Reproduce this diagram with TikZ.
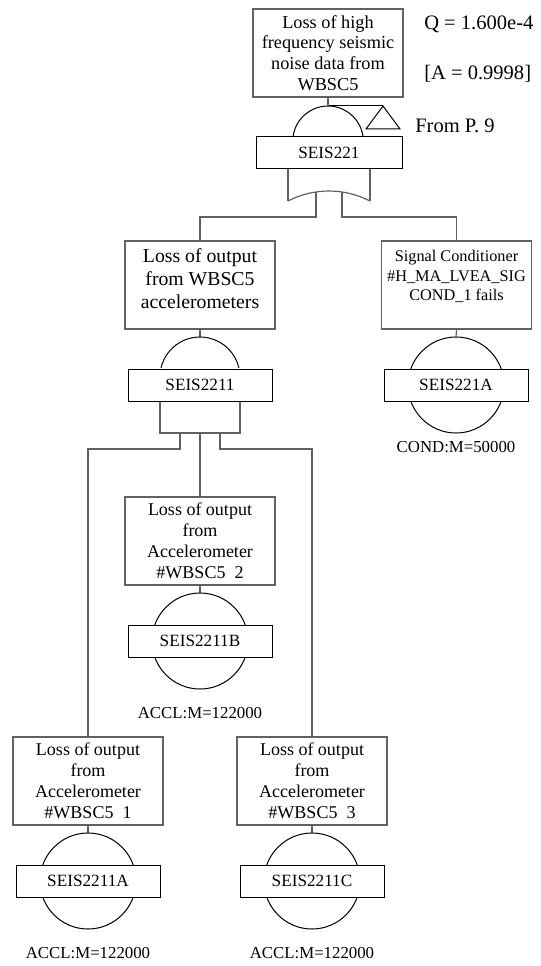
\documentclass[tikz,border=0pt]{standalone}
\usepackage{fontspec}
\setmainfont{Liberation Serif}
\usetikzlibrary{calc}
\definecolor{linegray}{gray}{0.38}
\newlength\px
\setlength\px{0.75pt}
\begin{document}
\begin{tikzpicture}[x=0.75pt,y=-0.75pt,
  conn/.style={draw=linegray,line width=1.2\px},
  gate/.style={draw=black,line width=1\px},
  evbox/.style={draw=linegray,line width=1.2\px,fill=white,inner sep=0pt,align=center,
    minimum width=150\px,minimum height=88\px},
  lbl/.style={draw=black,line width=1\px,fill=white,inner sep=0pt,
    minimum width=144\px,minimum height=32\px,font=\fontsize{12.9}{14}\selectfont},
  note/.style={inner sep=0pt,font=\fontsize{15.4}{17}\selectfont},
  code/.style={inner sep=0pt,font=\fontsize{12.6}{14}\selectfont}]
\useasboundingbox (0,0) rectangle (541,966);

% ---- top event and its OR gate ----
\node[evbox,font=\fontsize{13.7}{15.5}\selectfont] (top) at (328,53)
  {Loss of high\\frequency seismic\\noise data from\\WBSC5};
\node[note,anchor=west] (q) at (424,24) {Q = 1.600e-4};
\node[note,anchor=west] (avail) at (424,74) {[A = 0.9998]};

\coordinate (g1top) at (328,106);
\coordinate (xfer) at (383,106);
\draw[gate] (293,137) arc[start angle=187,end angle=353,radius=35.3];
\draw[gate] (g1top) -- (xfer);
\draw[gate] (xfer) -- ++(17,23) -- ++(-34,0) -- cycle;
\node[note,anchor=west] (xfertxt) at (415,126) {From P. 9};

\draw[conn] (top.south) -- (g1top);
\draw[conn] (288,168) -- (288,201);
\draw[conn] (370,168) -- (370,201);
\draw[conn] (288,201) arc[start angle=242.6,end angle=297.4,radius=89];
\node[lbl,minimum width=146\px] (g1) at (329,152.5) {SEIS221};

% ---- intermediate event and its AND gate ----
\node[evbox,font=\fontsize{14.8}{17.2}\selectfont] (acc) at (200,285)
  {Loss of output\\from WBSC5\\accelerometers\\[-8pt]\mbox{}};
\node[evbox,font=\fontsize{12.2}{14.4}\selectfont] (sig) at (456.5,285)
  {Signal Conditioner\\\#H\_MA\_LVEA\_SIG\\COND\_1 fails\\\mbox{}};

\draw[conn] (316,192) -- (316,217) -| (acc.north);
\draw[conn] (342,192) -- (342,217) -| (sig.north);

\coordinate (g2top) at (200,337);
\draw[conn] (acc.south) -- (g2top);
\draw[gate] (161,368) arc[start angle=193,end angle=347,radius=40];
\draw[conn] (160,402) -- (160,433) -- (240,433) -- (240,402);
\node[lbl] (g2) at (200,385) {SEIS2211};

% ---- basic event under the signal conditioner ----
\coordinate (c0) at (456,385);
\draw[conn] (sig.south) -- ($(c0)+(0,-48)$);
\draw[gate] (c0) circle[radius=48];
\node[lbl] (e0) at (c0) {SEIS221A};
\node[code] (m0) at (456,447) {COND:M=50000};

% ---- accelerometer events ----
\node[evbox,font=\fontsize{13.5}{15.75}\selectfont] (a2) at (200,541)
  {Loss of output\\from\\Accelerometer\\\#WBSC5~~2};
\node[evbox,font=\fontsize{13.5}{15.75}\selectfont] (a1) at (88,781)
  {Loss of output\\from\\Accelerometer\\\#WBSC5~~1};
\node[evbox,font=\fontsize{13.5}{15.75}\selectfont] (a3) at (312,781)
  {Loss of output\\from\\Accelerometer\\\#WBSC5~~3};

\draw[conn] (180,433) -- (180,449) -| (a1.north);
\draw[conn] (200,433) -- (a2.north);
\draw[conn] (220,433) -- (220,449) -| (a3.north);

\coordinate (c2) at (200,641);
\draw[conn] (a2.south) -- ($(c2)+(0,-48)$);
\draw[gate] (c2) circle[radius=48];
\node[lbl] (e2) at (c2) {SEIS2211B};
\node[code] (m2) at (200,713) {ACCL:M=122000};

\coordinate (c1) at (88,881);
\draw[conn] (a1.south) -- ($(c1)+(0,-48)$);
\draw[gate] (c1) circle[radius=48];
\node[lbl] (e1) at (c1) {SEIS2211A};
\node[code] (m1) at (88,953) {ACCL:M=122000};

\coordinate (c3) at (312,881);
\draw[conn] (a3.south) -- ($(c3)+(0,-48)$);
\draw[gate] (c3) circle[radius=48];
\node[lbl] (e3) at (c3) {SEIS2211C};
\node[code] (m3) at (312,953) {ACCL:M=122000};
\end{tikzpicture}
\end{document}
